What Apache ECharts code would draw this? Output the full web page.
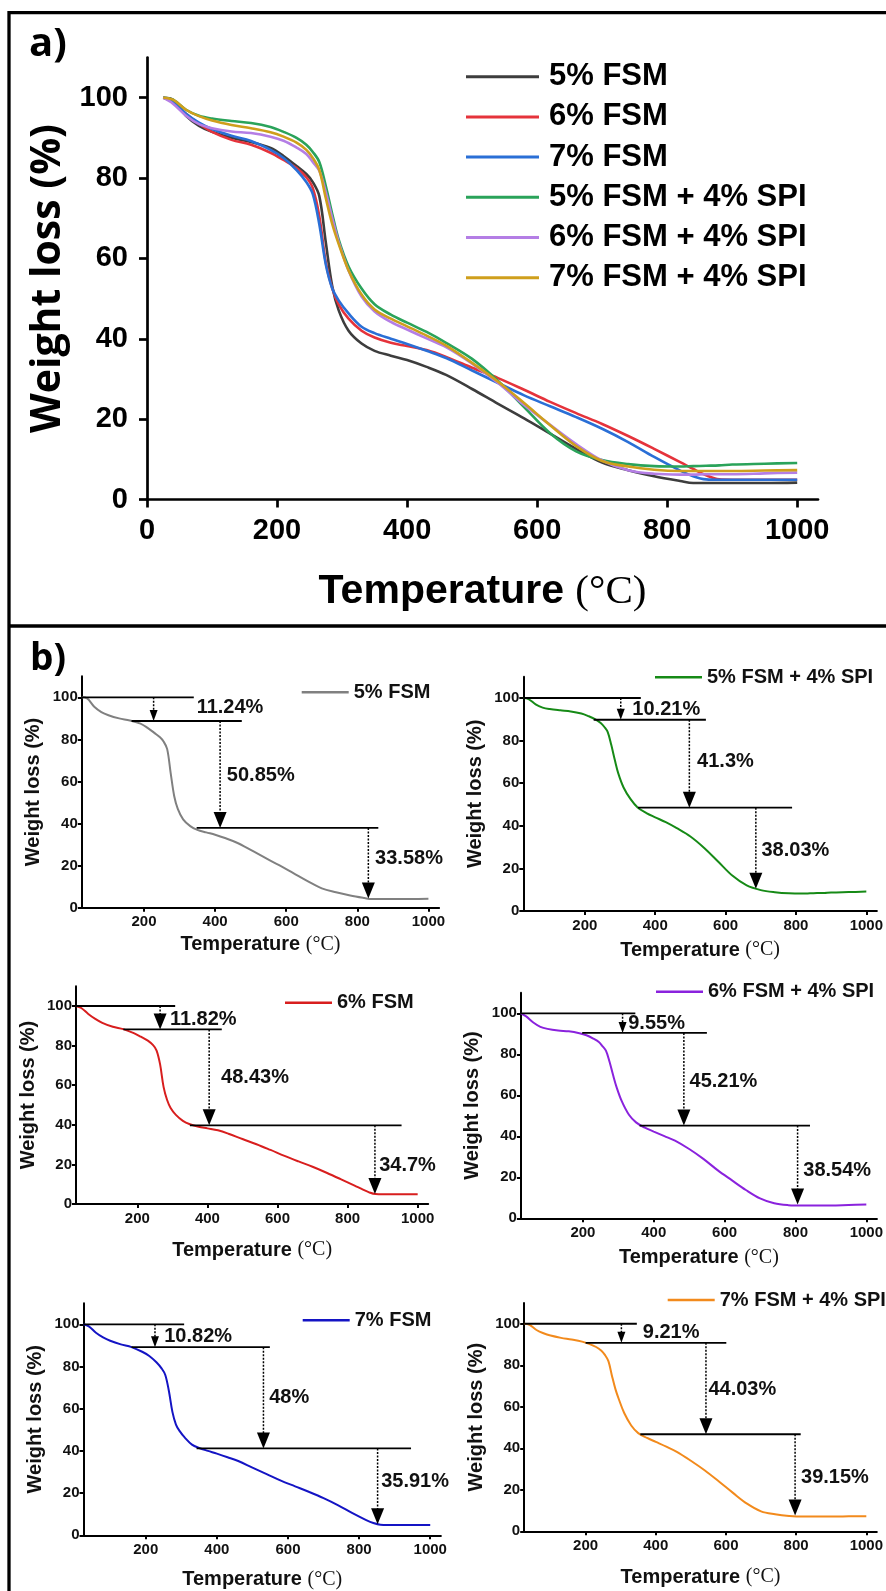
<!DOCTYPE html>
<html>
<head>
<meta charset="utf-8">
<script src="https://cdn.jsdelivr.net/npm/echarts@6/dist/echarts.min.js"></script>
<style>
  html, body { margin: 0; padding: 0; background: #fff; }
  #chart { width: 886px; height: 1591px; }
</style>
</head>
<body>
<div id="chart"></div>
<script>
// ---------- TGA data ----------
// Temperature points (°C) shared by all weight traces
const temperature = [25, 40, 60, 80, 100, 130, 160, 190, 210, 230, 245, 255, 265, 275, 285, 295, 310, 330, 350, 375,
  400, 430, 460, 500, 540, 580, 620, 660, 700, 740, 780, 820, 840, 860, 880, 900, 950, 1000];

// Remaining weight (%) for each formulation
const fsm5 = [100, 99.5, 95.5, 93, 91.5, 90, 89, 87.5, 85.5, 83, 81, 79, 75.5, 64, 53, 47, 42, 38.8, 37, 35.8,
  34.7, 33, 31, 27.5, 23.8, 20.2, 16.4, 12.6, 9.2, 7.3, 5.8, 4.6, 4.1, 4.1, 4.1, 4.1, 4.1, 4.2];
const fsm6 = [100, 99, 96, 93.5, 91.5, 89.5, 88.3, 86.3, 84.5, 82.5, 80.2, 77.5, 70.5, 59, 52.5, 48.5, 45, 42, 40.3, 39,
  38.2, 37.2, 35.5, 32.8, 30.2, 27.3, 24.3, 21.5, 18.8, 15.8, 12.6, 9.3, 7.6, 6, 5, 4.9, 4.9, 4.9];
const fsm7 = [100, 99, 96, 93.8, 92.2, 90.5, 89.2, 87, 85, 82, 79, 76, 68.5, 58.5, 52.5, 49.5, 46.3, 43, 41.4, 40,
  38.7, 37, 35.2, 32.1, 29, 25.9, 23.2, 20.5, 17.6, 14.3, 10.6, 7.2, 5.8, 5, 4.9, 4.9, 4.9, 4.9];
const fsm5spi = [100, 99.5, 97, 95.5, 94.8, 94.2, 93.7, 92.7, 91.5, 90, 88.3, 86.5, 84, 78, 71, 64.6, 58, 52.5, 48.6, 46,
  44, 41.7, 39, 35, 29.5, 23, 16.5, 12, 9.8, 8.8, 8.3, 8.2, 8.3, 8.4, 8.5, 8.7, 8.9, 9.1];
const fsm6spi = [100, 98.5, 95.5, 93.4, 92.4, 91.6, 91.2, 90.3, 89.3, 87.6, 86, 84, 81.8, 76.5, 70, 64, 57, 50.5, 46.8, 44.2,
  42.3, 40.1, 37.9, 33.8, 29, 23.5, 18.6, 13.8, 9.7, 7.3, 6.4, 6.2, 6.2, 6.3, 6.3, 6.3, 6.5, 6.7];
const fsm7spi = [100, 99.5, 97, 95.4, 94.3, 93.2, 92.4, 91.4, 90.3, 88.8, 87, 85, 82, 75, 68.5, 63.5, 57, 51, 47.3, 45,
  43.1, 40.8, 38.3, 34, 29.3, 24, 18.5, 13.3, 9.6, 8.2, 7.4, 7.1, 7.1, 7.1, 7.1, 7.1, 7.2, 7.3];

const sampleNames = ['5% FSM', '6% FSM', '7% FSM', '5% FSM + 4% SPI', '6% FSM + 4% SPI', '7% FSM + 4% SPI'];

// Mass lost in each decomposition stage (%)
const loss5 = [11.24, 50.85, 33.58];
const loss6 = [11.82, 48.43, 34.7];
const loss7 = [10.82, 48, 35.91];
const loss5spi = [10.21, 41.3, 38.03];
const loss6spi = [9.55, 45.21, 38.54];
const loss7spi = [9.21, 44.03, 39.15];

// Temperature (°C) at which each stage arrow is drawn
const arrowT5 = [227, 414, 831];
const arrowT6 = [265, 405, 878];
const arrowT7 = [226, 531, 852];
const arrowT5spi = [302, 497, 686];
const arrowT6spi = [312, 485, 806];
const arrowT7spi = [302, 543, 797];

// Temperature span (°C) of the plateau guide lines
const guideFrom5 = [25, 165, 348], guideTo5 = [340, 475, 859];
const guideFrom6 = [25, 160, 350], guideTo6 = [308, 441, 954];
const guideFrom7 = [25, 160, 343], guideTo7 = [308, 549, 946];
const guideFrom5spi = [25, 225, 351], guideTo5spi = [359, 544, 789];
const guideFrom6spi = [25, 198, 360], guideTo6spi = [348, 550, 841];
const guideFrom7spi = [25, 200, 356], guideTo7spi = [346, 601, 813];

// Where each stage label sits (temperature °C, weight %)
const labelT5 = [348, 433, 850], labelW5 = [95.1, 63, 23.5];
const labelT6 = [293, 439, 890], labelW6 = [93.3, 64, 19.7];
const labelT7 = [252, 547, 862], labelW7 = [94.2, 65.2, 25.4];
const labelT5spi = [335, 519, 702], labelW5spi = [94.8, 70.4, 28.3];
const labelT6spi = [328, 501, 822], labelW6spi = [94.8, 66.6, 23.2];
const labelT7spi = [363, 550, 814], labelW7spi = [95.6, 68.3, 25.9];

// Axis ticks
const xTicksA = [0, 200, 400, 600, 800, 1000];
const xTicksB = [200, 400, 600, 800, 1000];
const yTicks = [0, 20, 40, 60, 80, 100];

// ---------- styling ----------
const colorsA = ['#3d3d3d', '#e5333b', '#2a6fd6', '#2aa35a', '#b47ee5', '#cf9f1c'];
const SANS = '"Liberation Sans", Arial, sans-serif';
const SERIF = '"Liberation Serif", "Times New Roman", serif';
const plain = v => String(v);

const pairs = w => temperature.map((t, i) => [t, w[i]]);

// Small panels of section b)
const panels = [
  { name: sampleNames[0], w: fsm5, color: '#808080', loss: loss5, arrowT: arrowT5, from: guideFrom5, to: guideTo5, labT: labelT5, labW: labelW5,
    grid: { left: 81.8, top: 676.3, width: 357.3, height: 231.4 }, legend: { left: 301.7, y: 692.3 }, xGap: 27, bigFirst: false },
  { name: sampleNames[3], w: fsm5spi, color: '#168a16', loss: loss5spi, arrowT: arrowT5spi, from: guideFrom5spi, to: guideTo5spi, labT: labelT5spi, labW: labelW5spi,
    grid: { left: 523.3, top: 676.7, width: 359.7, height: 234.3 }, legend: { left: 655, y: 677.3 }, xGap: 29, bigFirst: false },
  { name: sampleNames[1], w: fsm6, color: '#d81e1e', loss: loss6, arrowT: arrowT6, from: guideFrom6, to: guideTo6, labT: labelT6, labW: labelW6,
    grid: { left: 76, top: 986.2, width: 352.2, height: 217.8 }, legend: { left: 285, y: 1002.7 }, xGap: 36, bigFirst: true },
  { name: sampleNames[4], w: fsm6spi, color: '#8a22dd', loss: loss6spi, arrowT: arrowT6spi, from: guideFrom6spi, to: guideTo6spi, labT: labelT6spi, labW: labelW6spi,
    grid: { left: 520.9, top: 992.8, width: 362.2, height: 225.5 }, legend: { left: 656, y: 991.7 }, xGap: 29.4, bigFirst: false },
  { name: sampleNames[2], w: fsm7, color: '#1414c4', loss: loss7, arrowT: arrowT7, from: guideFrom7, to: guideTo7, labT: labelT7, labW: labelW7,
    grid: { left: 83.5, top: 1303.2, width: 357.4, height: 232.1 }, legend: { left: 302.7, y: 1320.3 }, xGap: 34, bigFirst: false },
  { name: sampleNames[5], w: fsm7spi, color: '#f28a1c', loss: loss7spi, arrowT: arrowT7spi, from: guideFrom7spi, to: guideTo7spi, labT: labelT7spi, labW: labelW7spi,
    grid: { left: 524.2, top: 1303, width: 358.8, height: 228.3 }, legend: { left: 667.7, y: 1300 }, xGap: 35.7, bigFirst: false }
];

const grids = [], xAxes = [], yAxes = [], series = [], legends = [];

// ---------- section a) : all samples together ----------
grids.push({ left: 147, top: 57.5, width: 671, height: 442 });
xAxes.push({
  gridIndex: 0, type: 'value', min: 0, max: 1032,
  axisLine: { onZero: false, lineStyle: { color: '#000', width: 2.7 } },
  axisTick: { customValues: xTicksA, length: 8, lineStyle: { color: '#000', width: 2.7 } },
  axisLabel: { customValues: xTicksA, formatter: plain, margin: 17, fontFamily: SANS, fontWeight: 'bold', fontSize: 29, color: '#000' },
  splitLine: { show: false },
  name: '{s|Temperature }{t|(°C)}', nameLocation: 'middle', nameGap: 72,
  nameTextStyle: { rich: {
    s: { fontFamily: SANS, fontWeight: 'bold', fontSize: 41, color: '#000' },
    t: { fontFamily: SERIF, fontSize: 41, color: '#000' } } }
});
yAxes.push({
  gridIndex: 0, type: 'value', min: 0, max: 110,
  axisLine: { onZero: false, lineStyle: { color: '#000', width: 2.7 } },
  axisTick: { customValues: yTicks, length: 8, lineStyle: { color: '#000', width: 2.7 } },
  axisLabel: { customValues: yTicks, formatter: plain, margin: 19, fontFamily: SANS, fontWeight: 'bold', fontSize: 29, color: '#000' },
  splitLine: { show: false },
  name: 'Weight loss (%)', nameLocation: 'middle', nameGap: 74,
  nameTextStyle: { fontFamily: '"Open Sans", sans-serif', fontWeight: 'bold', fontSize: 41, color: '#000' }
});
[fsm5, fsm6, fsm7, fsm5spi, fsm6spi, fsm7spi].forEach((w, i) => {
  series.push({
    type: 'line', name: sampleNames[i], xAxisIndex: 0, yAxisIndex: 0, data: pairs(w),
    showSymbol: false, smooth: 0.35,
    lineStyle: { color: colorsA[i], width: 2.6 }, itemStyle: { color: colorsA[i] }, z: 2
  });
});
legends.push({
  orient: 'vertical', left: 466, top: 56.7, padding: 0, itemGap: 0.2,
  itemWidth: 73, itemHeight: 3, icon: 'rect', selectedMode: false,
  textStyle: { fontFamily: SANS, fontWeight: 'bold', fontSize: 31, color: '#000', lineHeight: 40, padding: [0, 0, 0, 5] },
  data: sampleNames.map((n, i) => ({ name: n, itemStyle: { color: colorsA[i] } }))
});

// ---------- section b) : one panel per sample with stage annotations ----------
function stageRenderer(bigFirst) {
  return function (params, api) {
    const i = params.dataIndex;
    const top = api.value(1), bottom = api.value(2);
    const g0 = api.coord([api.value(3), top]);
    const g1 = api.coord([api.value(4), top]);
    const p = api.coord([api.value(0), top]);
    const q = api.coord([api.value(0), bottom]);
    const lab = api.coord([api.value(5), api.value(6)]);
    const big = i > 0 || bigFirst;
    const hh = big ? 16 : 11, hw = big ? 13 : 8;
    return {
      type: 'group',
      children: [
        { type: 'line', shape: { x1: g0[0], y1: g0[1], x2: g1[0], y2: g1[1] },
          style: { stroke: '#000', lineWidth: 1.8 } },
        { type: 'line', shape: { x1: p[0], y1: p[1], x2: q[0], y2: q[1] - hh + 1 },
          style: { stroke: '#000', lineWidth: 1.5, lineDash: [2, 1.5] } },
        { type: 'polygon', shape: { points: [[q[0] - hw / 2, q[1] - hh], [q[0] + hw / 2, q[1] - hh], [q[0], q[1]]] },
          style: { fill: '#000' } },
        { type: 'text',
          style: { x: lab[0], y: lab[1], text: api.value(7) + '%', font: 'bold 20px ' + SANS, fill: '#111',
            align: 'left', verticalAlign: 'middle', textAlign: 'left', textVerticalAlign: 'middle' } }
      ]
    };
  };
}

panels.forEach((pn, k) => {
  const gi = k + 1;
  grids.push(pn.grid);
  xAxes.push({
    gridIndex: gi, type: 'value', min: 25, max: 1030,
    axisLine: { onZero: false, lineStyle: { color: '#000', width: 2 } },
    axisTick: { customValues: xTicksB, length: 4, lineStyle: { color: '#000', width: 2 } },
    axisLabel: { customValues: xTicksB, formatter: plain, margin: 7, fontFamily: SANS, fontWeight: 'bold', fontSize: 15, color: '#111' },
    splitLine: { show: false },
    name: '{s|Temperature }{t|(°C)}', nameLocation: 'middle', nameGap: pn.xGap,
    nameTextStyle: { rich: {
      s: { fontFamily: SANS, fontWeight: 'bold', fontSize: 20, color: '#111' },
      t: { fontFamily: SERIF, fontSize: 20, color: '#111' } } }
  });
  yAxes.push({
    gridIndex: gi, type: 'value', min: 0, max: 110,
    axisLine: { onZero: false, lineStyle: { color: '#000', width: 2 } },
    axisTick: { customValues: yTicks, length: 4, lineStyle: { color: '#000', width: 2 } },
    axisLabel: { customValues: yTicks, formatter: plain, margin: 4, fontFamily: SANS, fontWeight: 'bold', fontSize: 15, color: '#111' },
    splitLine: { show: false },
    name: 'Weight loss (%)', nameLocation: 'middle', nameGap: 38,
    nameTextStyle: { fontFamily: SANS, fontWeight: 'bold', fontSize: 20, color: '#111' }
  });
  series.push({
    type: 'line', name: pn.name, xAxisIndex: gi, yAxisIndex: gi, data: pairs(pn.w),
    showSymbol: false, smooth: 0.35,
    lineStyle: { color: pn.color, width: 2 }, itemStyle: { color: pn.color }, z: 2
  });
  // plateau levels follow from the stated stage losses
  const levels = [100];
  pn.loss.forEach(l => levels.push(+(levels[levels.length - 1] - l).toFixed(2)));
  const rows = pn.loss.map((l, i) => [pn.arrowT[i], levels[i], levels[i + 1], pn.from[i], pn.to[i], pn.labT[i], pn.labW[i], l]);
  series.push({
    type: 'custom', name: 'stages ' + pn.name, xAxisIndex: gi, yAxisIndex: gi,
    data: rows, encode: { x: 0, y: 1 }, clip: false, silent: true, z: 3,
    renderItem: stageRenderer(pn.bigFirst)
  });
  legends.push({
    orient: 'horizontal', left: pn.legend.left, top: pn.legend.y - 10, padding: 0,
    itemWidth: 47, itemHeight: 2.5, icon: 'rect', selectedMode: false,
    textStyle: { fontFamily: SANS, fontWeight: 'bold', fontSize: 20, color: '#111', lineHeight: 20 },
    data: [{ name: pn.name, itemStyle: { color: pn.color } }]
  });
});

const chart = echarts.init(document.getElementById('chart'), null, { renderer: 'canvas' });
chart.setOption({
  backgroundColor: '#fff',
  animation: false,
  grid: grids,
  xAxis: xAxes,
  yAxis: yAxes,
  legend: legends,
  series: series,
  graphic: [
    // frame of the figure and the divider between the two sections
    { type: 'line', shape: { x1: 9, y1: 12.7, x2: 886, y2: 12.7 }, style: { stroke: '#000', lineWidth: 3.3 } },
    { type: 'line', shape: { x1: 9, y1: 11, x2: 9, y2: 1591 }, style: { stroke: '#000', lineWidth: 3.3 } },
    { type: 'line', shape: { x1: 9, y1: 626, x2: 886, y2: 626 }, style: { stroke: '#000', lineWidth: 3.3 } },
    { type: 'text', x: 29, y: 45, style: { text: 'a)', font: 'bold 40px "Open Sans", sans-serif', fill: '#000', verticalAlign: 'middle', textVerticalAlign: 'middle' } },
    { type: 'text', x: 30, y: 659, style: { text: 'b)', font: 'bold 37px "Open Sans", sans-serif', fill: '#000', verticalAlign: 'middle', textVerticalAlign: 'middle' } }
  ]
});
</script>
</body>
</html>
